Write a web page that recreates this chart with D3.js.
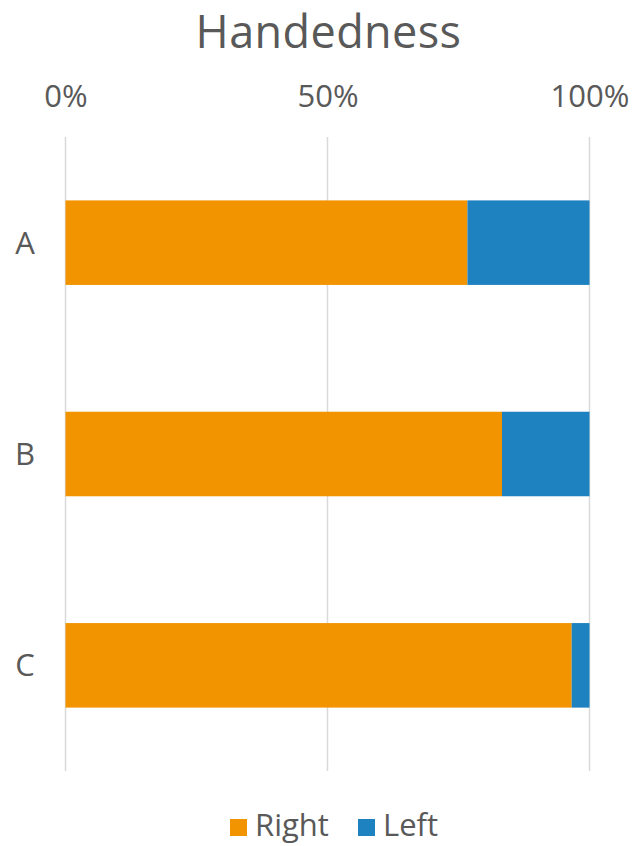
<!DOCTYPE html>
<html><head><meta charset="utf-8">
<script src="https://cdn.jsdelivr.net/npm/d3@7"></script>
<style>body{margin:0;background:#fff}</style>
</head><body>
<script>
const categories = ["A", "B", "C"];
const seriesNames = ["Right", "Left"];
const rightValues = [0.767, 0.833, 0.966];
const leftValues = [0.233, 0.167, 0.034];
const tickValues = [0, 0.5, 1];
const colors = ["#F29400", "#1F82C0"];

const W = 633, H = 846;
const font = "'Open Sans', 'Noto Sans', sans-serif";
const textColor = "#595959";
const svg = d3.select("body").append("svg").attr("width", W).attr("height", H);

const x = d3.scaleLinear().domain([0, 1]).range([65.5, 589.5]);
const y = d3.scaleBand().domain(categories).range([137, 771]).paddingInner(0.6).paddingOuter(0.3);

// title
svg.append("text").attr("x", 328.5).attr("y", 48).attr("text-anchor", "middle")
  .style("font-family", font).style("font-size", "45px").style("letter-spacing", "0.4px")
  .attr("fill", textColor).text("Handedness");

// gridlines
svg.append("g").selectAll("line").data(tickValues).join("line")
  .attr("x1", d => x(d)).attr("x2", d => x(d)).attr("y1", 137).attr("y2", 771)
  .attr("stroke", "#d9d9d9").attr("stroke-width", 1.5);

// top axis labels
const fmt = d3.format(".0%");
const axis = d3.axisTop(x).tickValues(tickValues).tickFormat(fmt).tickSize(0).tickPadding(0);
const ag = svg.append("g").attr("transform", "translate(0,107)").call(axis);
ag.select(".domain").remove();
ag.selectAll("text").style("font-family", font).style("font-size", "31px").attr("fill", textColor).attr("dy", 0);

// stacked bars
const rows = categories.map((c, i) => ({cat: c, Right: rightValues[i], Left: leftValues[i]}));
const stack = d3.stack().keys(seriesNames)(rows);
svg.append("g").selectAll("g").data(stack).join("g").attr("fill", (d, i) => colors[i])
  .selectAll("rect").data(d => d).join("rect")
  .attr("x", d => x(d[0])).attr("width", d => x(d[1]) - x(d[0]))
  .attr("y", d => y(d.data.cat)).attr("height", y.bandwidth());

// category labels
const yAxis = d3.axisLeft(y).tickSize(0).tickPadding(0);
const yg = svg.append("g").attr("transform", "translate(25,0)").call(yAxis);
yg.select(".domain").remove();
yg.selectAll("text").attr("text-anchor", "middle").attr("dy", "0.35em")
  .style("font-family", font).style("font-size", "31px").attr("fill", textColor);

// legend
const legendItems = [{name: "Right", sx: 230, tx: 255}, {name: "Left", sx: 358, tx: 383}];
const lg = svg.append("g");
legendItems.forEach((it, i) => {
  lg.append("rect").attr("x", it.sx).attr("y", 819).attr("width", 17).attr("height", 17).attr("fill", colors[i]);
  lg.append("text").attr("x", it.tx).attr("y", 836).style("font-family", font).style("font-size", "31px")
    .attr("fill", textColor).text(it.name);
});
</script>
</body></html>
